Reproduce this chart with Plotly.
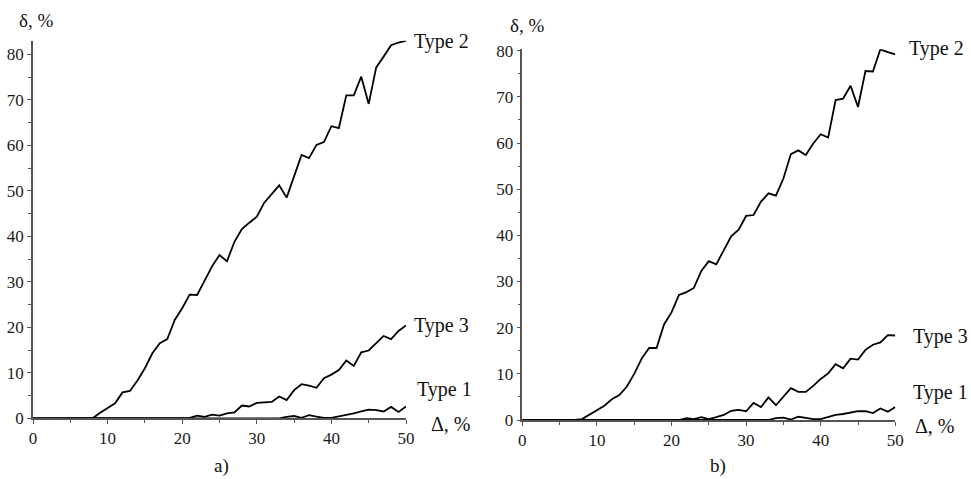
import plotly.graph_objects as go

x_vals = list(range(0, 51))

# Panel a)
a_type2 = [0, 0, 0, 0, 0, 0, 0, 0, 0, 1.2, 2.3, 3.3, 5.7, 6.0, 8.3, 11.0, 14.3, 16.5, 17.4, 21.6,
           24.2, 27.2, 27.1, 30.4, 33.4, 35.9, 34.5, 38.8, 41.6, 43.0, 44.3, 47.4, 49.3, 51.2, 48.5,
           53.2, 57.9, 57.2, 60.1, 60.7, 64.2, 63.8, 71.0, 71.0, 75.1, 69.1, 77.1, 79.5, 82.0, 82.6, 83.0]
a_type3 = [0] * 21 + [0.1, 0.6, 0.3, 0.8, 0.6, 1.1, 1.3, 2.8, 2.6, 3.4, 3.5, 3.6, 4.8, 4.0, 6.2, 7.5,
                      7.2, 6.7, 8.8, 9.6, 10.6, 12.7, 11.5, 14.5, 14.9, 16.5, 18.1, 17.4, 19.2, 20.4]
a_type1 = [0] * 34 + [0.3, 0.5, 0.1, 0.7, 0.35, 0.1, 0.1, 0.4, 0.8, 1.1, 1.5, 1.9, 1.8, 1.5, 2.5, 1.4, 2.6]

# Panel b)
b_type2 = [0, 0, 0, 0, 0, 0, 0, 0, 0.2, 1.2, 2.2, 3.1, 4.5, 5.4, 7.2, 10.0, 13.3, 15.6, 15.6, 20.7,
           23.3, 27.1, 27.7, 28.6, 32.3, 34.4, 33.7, 36.8, 39.8, 41.2, 44.2, 44.4, 47.3, 49.1, 48.6,
           52.3, 57.6, 58.4, 57.4, 59.9, 61.9, 61.2, 69.3, 69.6, 72.4, 67.8, 75.6, 75.5, 80.3, 79.7, 79.2]
b_type3 = [0] * 22 + [0.4, 0.2, 0.6, 0.2, 0.6, 1.1, 2.0, 2.2, 1.9, 3.7, 2.8, 4.9, 3.2, 5.1, 6.9, 6.1,
                      6.1, 7.4, 8.9, 10.1, 12.1, 11.2, 13.3, 13.1, 15.2, 16.3, 16.8, 18.4, 18.3]
b_type1 = [0] * 34 + [0.4, 0.5, 0.1, 0.7, 0.45, 0.2, 0.2, 0.6, 1.1, 1.3, 1.6, 1.9, 1.9, 1.5, 2.5, 1.8, 2.8]

x_ticks = [0, 10, 20, 30, 40, 50]
y_ticks = [0, 10, 20, 30, 40, 50, 60, 70, 80]

W, H = 971, 479
SERIF = "Liberation Serif"
line_style = dict(color="black", width=1.8)

fig = go.Figure()
for ys, xa, ya in [(a_type2, "x", "y"), (a_type3, "x", "y"), (a_type1, "x", "y"),
                   (b_type2, "x2", "y2"), (b_type3, "x2", "y2"), (b_type1, "x2", "y2")]:
    fig.add_trace(go.Scatter(x=x_vals, y=ys, mode="lines", line=line_style,
                             xaxis=xa, yaxis=ya, showlegend=False, cliponaxis=False))

axis_common = dict(showline=True, linecolor="#555", linewidth=1.5, ticks="outside",
                   ticklen=4, tickwidth=1.2, tickcolor="#555", showgrid=False, zeroline=False,
                   automargin=False,
                   tickfont=dict(family=SERIF, size=17, color="#1a1a1a"),
                   minor=dict(ticks="outside", ticklen=3, tickcolor="#555", tickwidth=1, dtick=5,
                              tick0=0, showgrid=False))

def fx(px):
    return px / W

def fy(py):
    return 1 - py / H

fig.update_layout(
    width=W, height=H,
    margin=dict(l=0, r=0, t=0, b=0),
    paper_bgcolor="white", plot_bgcolor="white",
    xaxis=dict(domain=[fx(33), fx(406)], range=[0, 50], tickvals=x_ticks, anchor="y", **axis_common),
    yaxis=dict(domain=[fy(418.3), fy(40.7)], range=[0, 83], tickvals=y_ticks, anchor="x", **axis_common),
    xaxis2=dict(domain=[fx(522.3), fx(895.3)], range=[0, 50], tickvals=x_ticks, anchor="y2", **axis_common),
    yaxis2=dict(domain=[fy(420), fy(49.3)], range=[0, 80.3], tickvals=y_ticks, anchor="x2", **axis_common),
)

labels = [
    ("δ, %", 36, 21, 19),
    ("Type 2", 441, 42, 20),
    ("Type 3", 441, 325, 20),
    ("Type 1", 444, 389, 20),
    ("Δ, %", 451, 424, 20),
    ("a)", 221, 466, 19),
    ("δ, %", 527, 25, 19),
    ("Type 2", 936, 49, 20),
    ("Type 3", 940, 336, 20),
    ("Type 1", 940, 392, 20),
    ("Δ, %", 935, 426, 20),
    ("b)", 718, 466, 19),
]
for text, px, py, size in labels:
    fig.add_annotation(text=text, x=fx(px), y=fy(py), xref="paper", yref="paper",
                       showarrow=False, xanchor="center", yanchor="middle",
                       font=dict(family=SERIF, size=size, color="#111"))

fig.write_html("out.html",
               config={"displayModeBar": False},
               post_script="document.body.style.margin='0';document.body.style.overflow='hidden';")
